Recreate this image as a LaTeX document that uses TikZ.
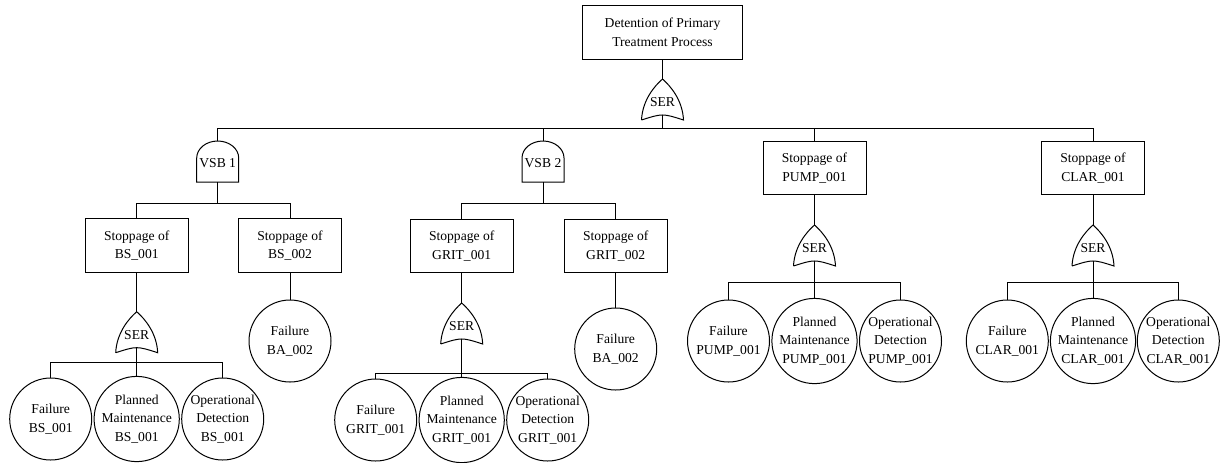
\documentclass[tikz,border=0pt]{standalone}
\usepackage{fontspec}
\setmainfont{Liberation Serif}

% SER gate: name, x, y of apex
\newcommand{\sergate}[3]{%
  \draw (#2-21,#3+41) .. controls (#2-20,#3+21) and (#2-8,#3+7) .. (#2,#3)
        .. controls (#2+8,#3+7) and (#2+20,#3+21) .. (#2+21,#3+41)
        .. controls (#2,#3+34.3) .. (#2-21,#3+41);
  \coordinate (#1-in) at (#2,#3);
  \coordinate (#1-out) at (#2,#3+36);
  \node[gatetext] (#1) at (#2,#3+23) {SER};
}
% VSB gate: name, x, y of top, label
\newcommand{\vsbgate}[4]{%
  \draw (#2-21,#3+41) -- (#2-21,#3+17)
        arc[start angle=180, end angle=0, x radius=15.75pt, y radius=12.75pt]
        -- (#2+21,#3+41) -- cycle;
  \coordinate (#1-in) at (#2,#3);
  \coordinate (#1-out) at (#2,#3+41);
  \node[gatetext] (#1) at (#2,#3+22) {#4};
}

\begin{document}
\begin{tikzpicture}[x=0.75pt, y=-0.75pt, line width=0.75pt,
    every node/.style={font=\fontsize{10.2}{14}\selectfont},
    topbox/.style={draw, minimum width=120pt, minimum height=40pt, align=center, inner sep=0pt},
    box/.style={draw, minimum width=77.25pt, minimum height=40pt, align=center, inner sep=0pt},
    event/.style={draw, circle, minimum size=61.5pt, align=center, inner sep=0pt},
    gatetext/.style={inner sep=0pt}]

  \useasboundingbox (0,0) rectangle (1220,462);

  % TOP EVENT
  \node[topbox] (top) at (662.5,32.5) {Detention of Primary\\Treatment Process};
  \sergate{ser0}{662.5}{79}
  \coordinate (bus0) at (662.5,128);
  \draw (top) -- (ser0-in);
  \draw (ser0-out) -- (bus0);

  \vsbgate{vsb1}{217.7}{141}{VSB 1}
  \vsbgate{vsb2}{543}{141}{VSB 2}
  \node[box] (pump) at (814.5,168) {Stoppage of\\PUMP\_001};
  \node[box] (clar) at (1093,168) {Stoppage of\\CLAR\_001};
  \foreach \c in {vsb1-in, vsb2-in, pump, clar}
    \draw (bus0) -| (\c);

  % VSB 1
  \coordinate (bus1) at (217.7,203);
  \node[box] (bs1) at (136.7,245.5) {Stoppage of\\BS\_001};
  \node[box] (bs2) at (290,245.5) {Stoppage of\\BS\_002};
  \draw (vsb1-out) -- (bus1);
  \draw (bus1) -| (bs1);
  \draw (bus1) -| (bs2);

  \sergate{ser1}{136.7}{311.7}
  \coordinate (bus11) at (136.7,362.7);
  \draw (bs1) -- (ser1-in);
  \draw (ser1-out) -- (bus11);
  \node[event] (bsfail) at (50.7,419) {Failure\\BS\_001};
  \node[event] (bsmaint) at (136.7,419) {Planned\\Maintenance\\BS\_001};
  \node[event] (bsdet) at (222.7,419) {Operational\\Detection\\BS\_001};
  \foreach \c in {bsfail, bsmaint, bsdet}
    \draw (bus11) -| (\c);

  \node[event] (bafail1) at (290,341) {Failure\\BA\_002};
  \draw (bs2) -- (bafail1);

  % VSB 2
  \coordinate (bus2) at (543,203);
  \node[box] (grit1) at (461.7,246) {Stoppage of\\GRIT\_001};
  \node[box] (grit2) at (615.7,246) {Stoppage of\\GRIT\_002};
  \draw (vsb2-out) -- (bus2);
  \draw (bus2) -| (grit1);
  \draw (bus2) -| (grit2);

  \sergate{ser2}{461.7}{303}
  \coordinate (bus21) at (461.7,373);
  \draw (grit1) -- (ser2-in);
  \draw (ser2-out) -- (bus21);
  \node[event] (gritfail) at (375.7,420) {Failure\\GRIT\_001};
  \node[event] (gritmaint) at (461.7,420) {Planned\\Maintenance\\GRIT\_001};
  \node[event] (gritdet) at (547.7,420) {Operational\\Detection\\GRIT\_001};
  \foreach \c in {gritfail, gritmaint, gritdet}
    \draw (bus21) -| (\c);

  \node[event] (bafail2) at (615.7,349) {Failure\\BA\_002};
  \draw (grit2) -- (bafail2);

  % PUMP
  \sergate{ser3}{814.5}{225}
  \coordinate (bus3) at (814.5,282);
  \draw (pump) -- (ser3-in);
  \draw (ser3-out) -- (bus3);
  \node[event] (pumpfail) at (728.5,341) {Failure\\PUMP\_001};
  \node[event] (pumpmaint) at (814.5,341) {Planned\\Maintenance\\PUMP\_001};
  \node[event] (pumpdet) at (900.5,341) {Operational\\Detection\\PUMP\_001};
  \foreach \c in {pumpfail, pumpmaint, pumpdet}
    \draw (bus3) -| (\c);

  % CLAR
  \sergate{ser4}{1093}{225}
  \coordinate (bus4) at (1093,282);
  \draw (clar) -- (ser4-in);
  \draw (ser4-out) -- (bus4);
  \node[event] (clarfail) at (1007.3,341) {Failure\\CLAR\_001};
  \node[event] (clarmaint) at (1093,341) {Planned\\Maintenance\\CLAR\_001};
  \node[event] (clardet) at (1178.3,341) {Operational\\Detection\\CLAR\_001};
  \foreach \c in {clarfail, clarmaint, clardet}
    \draw (bus4) -| (\c);

\end{tikzpicture}
\end{document}
